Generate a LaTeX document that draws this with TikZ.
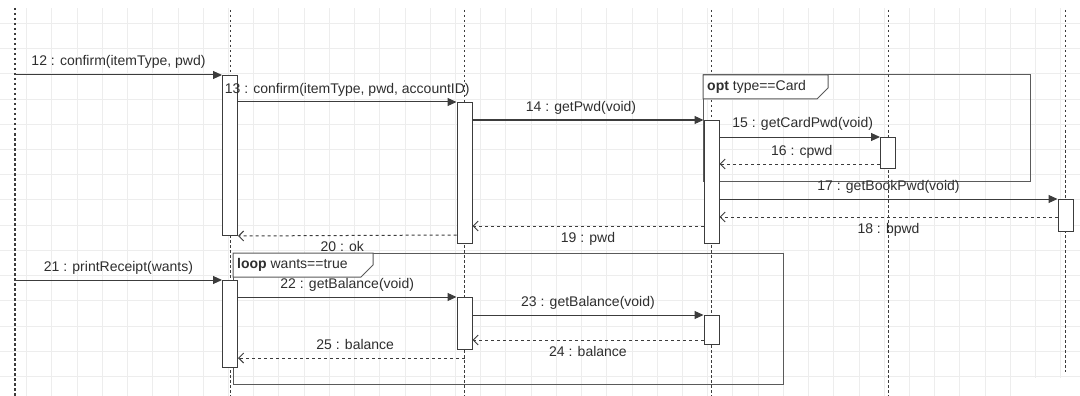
\documentclass[tikz,border=0pt]{standalone}
\usepackage{fontspec}
\setmainfont{Liberation Sans}
\usetikzlibrary{arrows.meta,positioning}
\definecolor{umlline}{HTML}{3C3C3C}
\definecolor{umlframe}{HTML}{5A5A5A}
\definecolor{umltext}{HTML}{2E2E2E}
\definecolor{gridgray}{HTML}{EDEDED}

\begin{document}
\begin{tikzpicture}[x=1pt, y=-1pt]
        \tikzstyle{gridline} = [draw=gridgray, line width=0.9pt]
        \tikzstyle{lifeline} = [draw=umlline, line width=0.9pt,
                                dash pattern=on 2.5pt off 2.5pt]
        \tikzstyle{act} = [rectangle, draw=umlline, fill=white, line width=1pt,
                           minimum width=15pt, inner sep=0pt, anchor=north]
        \tikzstyle{msg} = [draw=umlline, line width=1pt,
                           -{Triangle[length=9pt,width=8pt]}]
        \tikzstyle{ret} = [draw=umlline, line width=1pt, dash pattern=on 3pt off 3pt,
                           -{Straight Barb[length=5pt,width=10pt]}]
        \tikzstyle{msgtext} = [font=\fontsize{14}{16}\selectfont, text=umltext,
                               inner sep=1pt, text height=10pt, text depth=3pt]
        \tikzstyle{fragment} = [draw=umlframe, line width=1pt]
        \useasboundingbox (0,0) rectangle (1080,396);
        % background grid
        \foreach \i in {1,...,42}
          \draw[gridline] ({1.5+25.22*\i},8) -- ({1.5+25.22*\i},396);
        \foreach \j in {1,...,15}
          \draw[gridline] (0,{-1.9+25.22*\j}) -- (1080,{-1.9+25.22*\j});
        \fill[white] (1028,378) rectangle (1080,396);
        % lifelines
        \coordinate (L1) at (15,8);
        \coordinate (L2) at (230,10);
        \coordinate (L3) at (464.5,10);
        \coordinate (L4) at (711.5,10);
        \coordinate (L5) at (888,10);
        \coordinate (L6) at (1065.5,10);
        \draw[lifeline, line width=1.2pt] (L1) -- (L1 |- 0,396);
        \draw[lifeline] (L2) -- (L2 |- 0,396);
        \draw[lifeline] (L3) -- (L3 |- 0,396);
        \draw[lifeline] (L4) -- (L4 |- 0,396);
        \draw[lifeline] (L5) -- (L5 |- 0,396);
        \draw[lifeline] (L6) -- (L6 |- 0,372);
        % combined fragments
        \draw[fragment] (703,75) rectangle (1030,181);
        \draw[fragment, fill=white] (703,75) -- (828,75) -- (828,88)
                                    -- (817,99) -- (703,99) -- cycle;
        \node[msgtext, anchor=west] (opt) at (706,87) {\textbf{opt} type==Card};
        \draw[fragment] (233,253) rectangle (783,384);
        \draw[fragment, fill=white] (233,253) -- (373,253) -- (373,265)
                                    -- (361,277) -- (233,277) -- cycle;
        \node[msgtext, anchor=west] (loop) at (236,265) {\textbf{loop} wants==true};
        % activations
        \node[act, minimum height=160pt] (A2a) at (230,75) {};
        \node[act, minimum height=87pt] (A2b) at (230,280) {};
        \node[act, minimum height=141pt] (A3a) at (464.5,102) {};
        \node[act, minimum height=52pt] (A3b) at (464.5,297) {};
        \node[act, minimum height=123pt] (A4a) at (711.5,120) {};
        \node[act, minimum height=29pt] (A4b) at (711.5,315) {};
        \node[act, minimum height=31pt] (A5) at (888,137) {};
        \node[act, minimum height=32pt] (A6) at (1065.5,199) {};
        % messages
        \draw[msg] (L1 |- 0,75) -- node[msgtext, above=4.5pt]
                   {12 : confirm(itemType, pwd)} (A2a.north west);
        \draw[msg] (A2a.east |- 0,102) -- node[msgtext, above=4.5pt]
                   {13 : confirm(itemType, pwd, accountID)} (A3a.north west);
        \draw[msg] (A3a.east |- 0,120) -- node[msgtext, above=4.5pt, xshift=-7pt]
                   {14 : getPwd(void)} (A4a.north west);
        \draw[msg] (A4a.east |- 0,137) -- node[msgtext, above=4.5pt, xshift=3pt]
                   {15 : getCardPwd(void)} (A5.north west);
        \draw[ret] (A5.west |- 0,164) -- node[msgtext, above=4.5pt, xshift=2pt]
                   {16 : cpwd} (A4a.east |- 0,164);
        \draw[msg] (A4a.east |- 0,199) -- node[msgtext, above=4.5pt]
                   {17 : getBookPwd(void)} (A6.north west);
        \draw[ret] (A6.west |- 0,217) -- node[msgtext, below=4.5pt]
                   {18 : bpwd} (A4a.east |- 0,217);
        \draw[ret] (A4a.west |- 0,226) -- node[msgtext, below=4.5pt]
                   {19 : pwd} (A3a.east |- 0,226);
        \draw[ret] (A3a.west |- 0,235) -- node[msgtext, below=4.5pt, xshift=-5pt]
                   {20 : ok} (A2a.south east);
        \draw[msg] (L1 |- 0,280) -- node[msgtext, above=4.5pt]
                   {21 : printReceipt(wants)} (A2b.north west);
        \draw[msg] (A2b.east |- 0,297) -- node[msgtext, above=4.5pt]
                   {22 : getBalance(void)} (A3b.north west);
        \draw[msg] (A3b.east |- 0,315) -- node[msgtext, above=4.5pt]
                   {23 : getBalance(void)} (A4b.north west);
        \draw[ret] (A4b.west |- 0,340) -- node[msgtext, below=4.5pt]
                   {24 : balance} (A3b.east |- 0,340);
        \draw[ret] (L3 |- 0,358) -- node[msgtext, above=4.5pt, xshift=4pt]
                   {25 : balance} (A2b.east |- 0,358);
      \end{tikzpicture}
\end{document}
